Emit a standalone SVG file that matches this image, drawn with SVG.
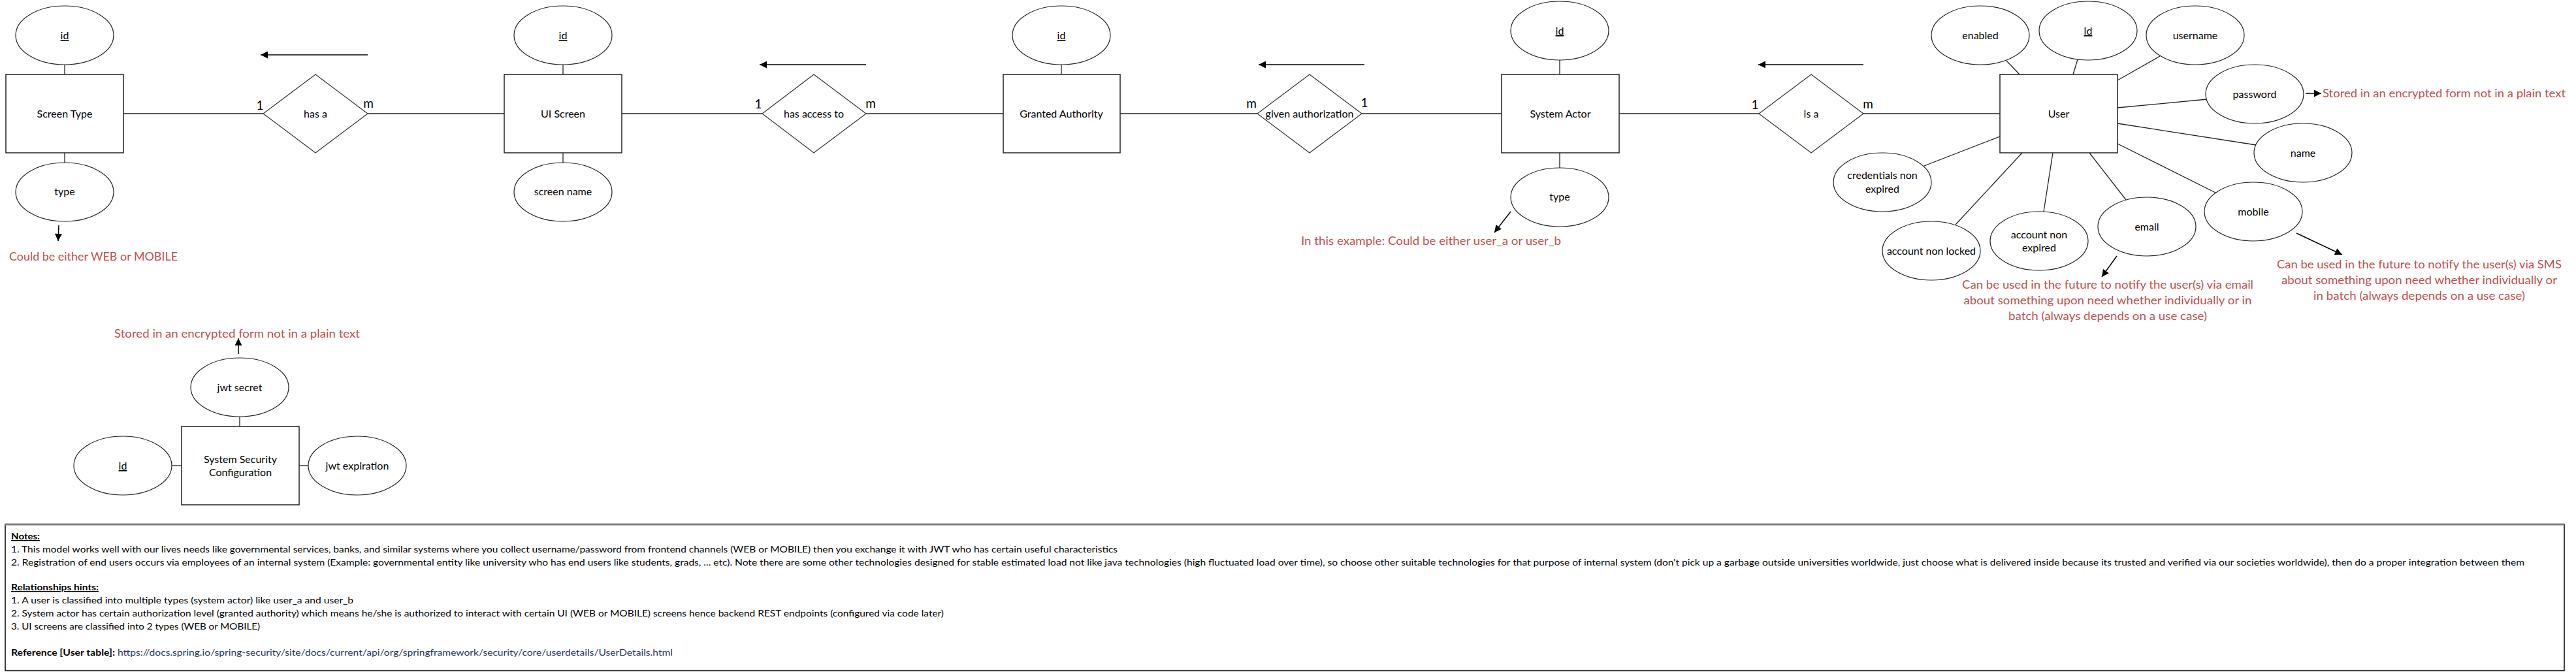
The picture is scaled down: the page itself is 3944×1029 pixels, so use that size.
<svg xmlns="http://www.w3.org/2000/svg" width="3944" height="1029" viewBox="0 0 3944 1029">
<defs>
<marker id="ah" viewBox="0 0 10 10" refX="10" refY="5" markerWidth="12" markerHeight="11" markerUnits="userSpaceOnUse" orient="auto">
<path d="M0,0 L10,5 L0,10 z" fill="#000"/>
</marker>
</defs>
<style>
.ent{fill:#fff;stroke:#222;stroke-width:1.5}
.att{fill:#fff;stroke:#222;stroke-width:1.2}
.rel{fill:#fff;stroke:#333;stroke-width:1.2}
.ln{stroke:#222;stroke-width:1.3;fill:none}
.arr{stroke:#000;stroke-width:1.5;fill:none;marker-end:url(#ah)}
text{font-family:Lato,"Liberation Sans",sans-serif;fill:#000}
.lb{font-size:16px;text-anchor:middle}
.key{text-decoration:underline}
.card{font-size:19px;text-anchor:middle}
.red{font-size:18px;fill:#c0504d}
.redc{font-size:18px;fill:#c0504d;text-anchor:middle}
.note{font-size:13px}
.bold{font-weight:bold}
.ul{text-decoration:underline}
.url{fill:#1f3763}
</style>
<rect width="3944" height="1029" fill="#fff"/>

<g id="connectors">
<line class="ln" x1="189" y1="174" x2="403" y2="174"/>
<line class="ln" x1="563" y1="174" x2="772" y2="174"/>
<line class="ln" x1="952" y1="174" x2="1167" y2="174"/>
<line class="ln" x1="1326" y1="174" x2="1536" y2="174"/>
<line class="ln" x1="1715" y1="174" x2="1925" y2="174"/>
<line class="ln" x1="2085" y1="174" x2="2299" y2="174"/>
<line class="ln" x1="2479" y1="174" x2="2693" y2="174"/>
<line class="ln" x1="2853" y1="174" x2="3062" y2="174"/>
<line class="ln" x1="99" y1="99" x2="99" y2="114"/>
<line class="ln" x1="99" y1="234" x2="99" y2="249"/>
<line class="ln" x1="862" y1="99" x2="862" y2="114"/>
<line class="ln" x1="862" y1="234" x2="862" y2="249"/>
<line class="ln" x1="1625" y1="99" x2="1625" y2="114"/>
<line class="ln" x1="2388" y1="92" x2="2388" y2="114"/>
<line class="ln" x1="2388" y1="234" x2="2388" y2="257"/>
<line class="ln" x1="3072" y1="93" x2="3092" y2="114"/>
<line class="ln" x1="3181" y1="91" x2="3174" y2="114"/>
<line class="ln" x1="3307" y1="86" x2="3242" y2="123"/>
<line class="ln" x1="3379" y1="152" x2="3242" y2="165"/>
<line class="ln" x1="3454" y1="222" x2="3242" y2="189"/>
<line class="ln" x1="3392" y1="295" x2="3242" y2="220"/>
<line class="ln" x1="3255" y1="306" x2="3199" y2="234"/>
<line class="ln" x1="3129" y1="324" x2="3143" y2="234"/>
<line class="ln" x1="2994" y1="344" x2="3096" y2="234"/>
<line class="ln" x1="2946" y1="254" x2="3062" y2="209"/>
<line class="ln" x1="367" y1="638" x2="367" y2="653"/>
<line class="ln" x1="263" y1="713" x2="278" y2="713"/>
<line class="ln" x1="458" y1="713" x2="472" y2="713"/>
<line class="arr" x1="563" y1="84" x2="399" y2="84"/>
<line class="arr" x1="1326" y1="99" x2="1163" y2="99"/>
<line class="arr" x1="2089" y1="99" x2="1927" y2="99"/>
<line class="arr" x1="2853" y1="99" x2="2692" y2="99"/>
<line class="arr" x1="90" y1="345" x2="89" y2="369"/>
<line class="arr" x1="2313" y1="324" x2="2288" y2="356"/>
<line class="arr" x1="3530" y1="143" x2="3554" y2="143"/>
<line class="arr" x1="3241" y1="392" x2="3218" y2="424"/>
<line class="arr" x1="3516" y1="357" x2="3586" y2="390"/>
<line class="arr" x1="365" y1="542" x2="365" y2="518"/>
<text class="card" x="398" y="168">1</text>
<text class="card" x="564" y="165">m</text>
<text class="card" x="1161" y="166">1</text>
<text class="card" x="1333" y="165">m</text>
<text class="card" x="1916" y="165">m</text>
<text class="card" x="2089" y="164">1</text>
<text class="card" x="2687" y="167">1</text>
<text class="card" x="2860" y="166">m</text>
</g>

<g id="screen-type">
<ellipse class="att" cx="99" cy="54" rx="75" ry="45"/>
<text class="lb key" x="99" y="60">id</text>
<rect class="ent" x="9" y="114" width="180" height="120"/>
<text class="lb" x="99" y="180">Screen Type</text>
<ellipse class="att" cx="99" cy="294" rx="75" ry="45"/>
<text class="lb" x="99" y="299">type</text>
<text class="red" x="14" y="399" textLength="258" lengthAdjust="spacingAndGlyphs">Could be either WEB or MOBILE</text>
</g>

<g id="has-a">
<polygon class="rel" points="483,114 563,174 483,234 403,174"/>
<text class="lb" x="483" y="180">has a</text>
</g>

<g id="ui-screen">
<ellipse class="att" cx="862" cy="54" rx="75" ry="45"/>
<text class="lb key" x="862" y="60">id</text>
<rect class="ent" x="772" y="114" width="180" height="120"/>
<text class="lb" x="862" y="180">UI Screen</text>
<ellipse class="att" cx="862" cy="294" rx="75" ry="45"/>
<text class="lb" x="862" y="299">screen name</text>
</g>

<g id="has-access-to">
<polygon class="rel" points="1246,114 1326,174 1246,234 1167,174"/>
<text class="lb" x="1246" y="180">has access to</text>
</g>

<g id="granted-authority">
<ellipse class="att" cx="1625" cy="54" rx="75" ry="45"/>
<text class="lb key" x="1625" y="60">id</text>
<rect class="ent" x="1536" y="114" width="179" height="120"/>
<text class="lb" x="1625" y="180">Granted Authority</text>
</g>

<g id="given-authorization">
<polygon class="rel" points="2005,114 2085,174 2005,234 1925,174"/>
<text class="lb" x="2005" y="180">given authorization</text>
</g>

<g id="system-actor">
<ellipse class="att" cx="2388" cy="47" rx="75" ry="45"/>
<text class="lb key" x="2388" y="53">id</text>
<rect class="ent" x="2299" y="114" width="180" height="120"/>
<text class="lb" x="2389" y="180">System Actor</text>
<ellipse class="att" cx="2388" cy="302" rx="75" ry="45"/>
<text class="lb" x="2388" y="307">type</text>
<text class="red" x="1992" y="375" textLength="398" lengthAdjust="spacingAndGlyphs">In this example: Could be either user_a or user_b</text>
</g>

<g id="is-a">
<polygon class="rel" points="2773,114 2853,174 2773,234 2693,174"/>
<text class="lb" x="2773" y="180">is a</text>
</g>

<g id="user">
<rect class="ent" x="3062" y="114" width="180" height="120"/>
<text class="lb" x="3152" y="180">User</text>
<ellipse class="att" cx="3032" cy="54" rx="75" ry="45"/>
<text class="lb" x="3032" y="60">enabled</text>
<ellipse class="att" cx="3197" cy="47" rx="75" ry="45"/>
<text class="lb key" x="3197" y="53">id</text>
<ellipse class="att" cx="3361" cy="54" rx="75" ry="45"/>
<text class="lb" x="3361" y="60">username</text>
<ellipse class="att" cx="3452" cy="144" rx="75" ry="45"/>
<text class="lb" x="3452" y="150">password</text>
<ellipse class="att" cx="3526" cy="234" rx="75" ry="45"/>
<text class="lb" x="3526" y="240">name</text>
<ellipse class="att" cx="3450" cy="324" rx="75" ry="45"/>
<text class="lb" x="3450" y="330">mobile</text>
<ellipse class="att" cx="3287" cy="347" rx="75" ry="45"/>
<text class="lb" x="3287" y="353">email</text>
<ellipse class="att" cx="3122" cy="369" rx="75" ry="45"/>
<text class="lb" x="3122" y="365">account non</text>
<text class="lb" x="3122" y="385">expired</text>
<ellipse class="att" cx="2957" cy="384" rx="75" ry="45"/>
<text class="lb" x="2957" y="390">account non locked</text>
<ellipse class="att" cx="2882" cy="279" rx="75" ry="45"/>
<text class="lb" x="2882" y="274">credentials non</text>
<text class="lb" x="2882" y="295">expired</text>
<text class="red" x="3556" y="149" textLength="372" lengthAdjust="spacingAndGlyphs">Stored in an encrypted form not in a plain text</text>
<text class="redc" x="3227" y="442" textLength="446" lengthAdjust="spacingAndGlyphs">Can be used in the future to notify the user(s) via email</text>
<text class="redc" x="3227" y="466" textLength="441" lengthAdjust="spacingAndGlyphs">about something upon need whether individually or in</text>
<text class="redc" x="3227" y="490" textLength="304" lengthAdjust="spacingAndGlyphs">batch (always depends on a use case)</text>
<text class="redc" x="3704" y="411" textLength="436" lengthAdjust="spacingAndGlyphs">Can be used in the future to notify the user(s) via SMS</text>
<text class="redc" x="3704" y="435" textLength="422" lengthAdjust="spacingAndGlyphs">about something upon need whether individually or</text>
<text class="redc" x="3704" y="459" textLength="324" lengthAdjust="spacingAndGlyphs">in batch (always depends on a use case)</text>
</g>

<g id="system-security-configuration">
<text class="redc" x="363" y="517" textLength="376" lengthAdjust="spacingAndGlyphs">Stored in an encrypted form not in a plain text</text>
<ellipse class="att" cx="367" cy="593" rx="75" ry="45"/>
<text class="lb" x="367" y="599">jwt secret</text>
<rect class="ent" x="278" y="653" width="180" height="120"/>
<text class="lb" x="368" y="709">System Security</text>
<text class="lb" x="368" y="729">Configuration</text>
<ellipse class="att" cx="188" cy="713" rx="75" ry="45"/>
<text class="lb key" x="188" y="719">id</text>
<ellipse class="att" cx="547" cy="713" rx="75" ry="45"/>
<text class="lb" x="547" y="719">jwt expiration</text>
</g>

<g id="notes">
<rect x="8" y="803" width="3918" height="224" fill="#fff" stroke="#000" stroke-width="1.5"/>
<line x1="8" y1="803" x2="3926" y2="803" stroke="#808080" stroke-width="3"/>
<text class="note bold ul" x="17" y="826" textLength="44" lengthAdjust="spacingAndGlyphs">Notes:</text>
<text class="note" x="17" y="846" textLength="1694" lengthAdjust="spacingAndGlyphs">1. This model works well with our lives needs like governmental services, banks, and similar systems where you collect username/password from frontend channels (WEB or MOBILE) then you exchange it with JWT who has certain useful characteristics</text>
<text class="note" x="17" y="866" textLength="3848" lengthAdjust="spacingAndGlyphs">2. Registration of end users occurs via employees of an internal system (Example: governmental entity like university who has end users like students, grads, ... etc). Note there are some other technologies designed for stable estimated load not like java technologies (high fluctuated load over time), so choose other suitable technologies for that purpose of internal system (don't pick up a garbage outside universities worldwide, just choose what is delivered inside because its trusted and verified via our societies worldwide), then do a proper integration between them</text>
<text class="note bold ul" x="17" y="904" textLength="134" lengthAdjust="spacingAndGlyphs">Relationships hints:</text>
<text class="note" x="17" y="924" textLength="524" lengthAdjust="spacingAndGlyphs">1. A user is classified into multiple types (system actor) like user_a and user_b</text>
<text class="note" x="17" y="944" textLength="1428" lengthAdjust="spacingAndGlyphs">2. System actor has certain authorization level (granted authority) which means he/she is authorized to interact with certain UI (WEB or MOBILE) screens hence backend REST endpoints (configured via code later)</text>
<text class="note" x="17" y="964" textLength="381" lengthAdjust="spacingAndGlyphs">3. UI screens are classified into 2 types (WEB or MOBILE)</text>
<text class="note bold" x="17" y="1004" textLength="159" lengthAdjust="spacingAndGlyphs">Reference [User table]:</text>
<text class="note url" x="180" y="1004" textLength="850" lengthAdjust="spacingAndGlyphs">https://docs.spring.io/spring-security/site/docs/current/api/org/springframework/security/core/userdetails/UserDetails.html</text>
</g>
</svg>
